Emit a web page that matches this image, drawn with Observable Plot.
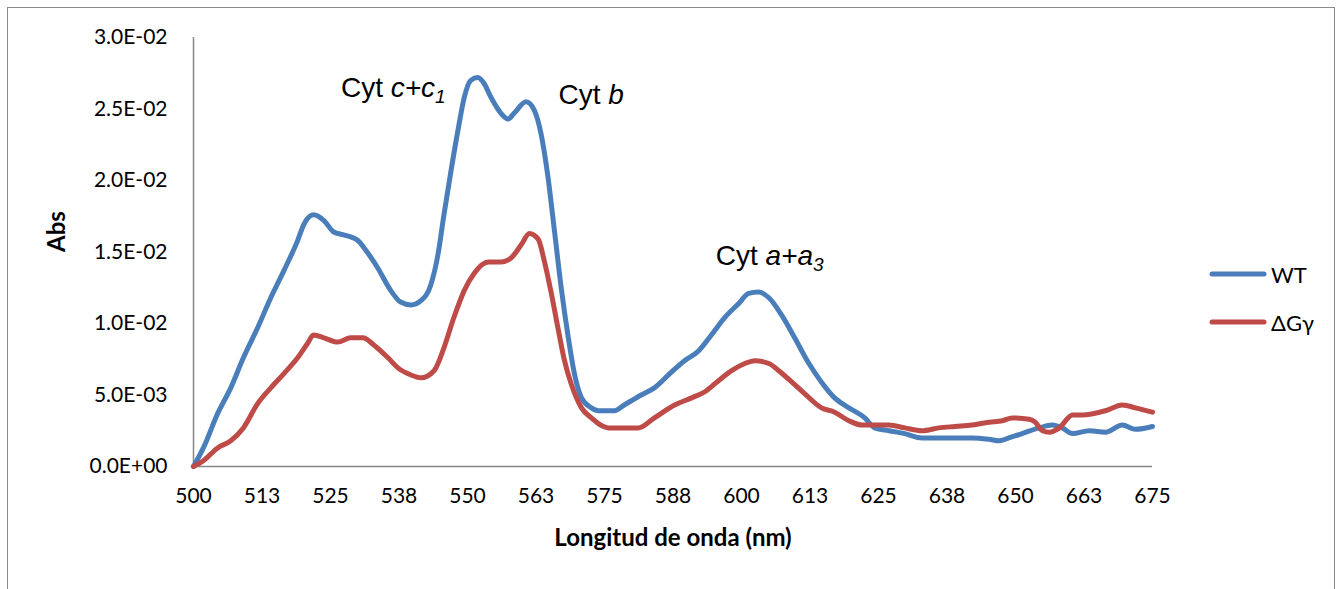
<!DOCTYPE html>
<html>
<head>
<meta charset="utf-8">
<script src="https://cdn.jsdelivr.net/npm/d3@7"></script>
<script src="https://cdn.jsdelivr.net/npm/@observablehq/plot@0.6"></script>
<style>
  html, body { margin: 0; padding: 0; background: #fff; }
  #wrap { position: relative; width: 1341px; height: 589px; overflow: hidden; }
  #frame { position: absolute; left: 7px; top: 7px; width: 1328px; height: 620px; border: 1.5px solid #8a8a8a; box-sizing: border-box; }
  #chart { position: absolute; left: 0; top: 0; }
  .legend { position: absolute; left: 1209px; font-family: Lato, "DejaVu Sans", sans-serif; font-size: 22px; color: #000; display: flex; align-items: center; }
  .legend svg { margin-right: 4px; }
</style>
</head>
<body>
<div id="wrap">
  <div id="frame"></div>
  <div id="chart"></div>
</div>
<script>
// Absorbance difference spectra, wild type vs ΔGγ mutant
const waveWT = [500.0, 501.8, 504.4, 506.8, 509.1, 511.7, 514.1, 516.5, 519.0, 520.1, 521.9, 523.8, 525.6, 527.4, 530.0, 531.1, 533.6, 536.0, 537.8, 539.7, 541.5, 543.3, 544.6, 545.7, 547.0, 548.3, 549.4, 550.6, 551.9, 553.0, 554.3, 556.1, 557.4, 558.5, 560.7, 562.2, 563.4, 564.7, 565.8, 567.1, 568.4, 569.5, 570.8, 572.6, 573.9, 576.8, 578.6, 581.7, 584.1, 587.2, 589.6, 592.2, 594.5, 596.9, 599.5, 601.3, 603.1, 605.0, 607.3, 609.7, 612.3, 614.6, 617.0, 619.6, 622.5, 624.3, 626.9, 629.8, 632.9, 636.0, 639.0, 642.1, 645.2, 647.0, 648.8, 651.2, 654.3, 656.7, 658.5, 660.4, 663.5, 666.4, 669.5, 671.9, 675.0];
const absWT = [0.0000, 0.0013, 0.0037, 0.0055, 0.0076, 0.0097, 0.0118, 0.0137, 0.0158, 0.0169, 0.0176, 0.0172, 0.0164, 0.0162, 0.0158, 0.0153, 0.0139, 0.0123, 0.0115, 0.0113, 0.0116, 0.0127, 0.0148, 0.0176, 0.0207, 0.0236, 0.0258, 0.0270, 0.0272, 0.0268, 0.0258, 0.0247, 0.0243, 0.0247, 0.0255, 0.0249, 0.0233, 0.0202, 0.0167, 0.0125, 0.0090, 0.0065, 0.0048, 0.0041, 0.0039, 0.0039, 0.0043, 0.0050, 0.0055, 0.0066, 0.0074, 0.0081, 0.0092, 0.0104, 0.0114, 0.0121, 0.0122, 0.0118, 0.0106, 0.0090, 0.0072, 0.0059, 0.0048, 0.0041, 0.0034, 0.0027, 0.0025, 0.0023, 0.0020, 0.0020, 0.0020, 0.0020, 0.0019, 0.0018, 0.0020, 0.0023, 0.0027, 0.0029, 0.0027, 0.0023, 0.0025, 0.0024, 0.0029, 0.0026, 0.0028];

const waveDG = [500.0, 501.8, 504.4, 506.8, 509.1, 511.7, 514.1, 516.5, 519.0, 520.8, 521.9, 523.8, 526.3, 528.7, 530.9, 532.9, 535.5, 537.3, 539.7, 541.5, 543.9, 545.7, 547.5, 549.4, 551.2, 553.8, 556.1, 558.0, 559.8, 561.3, 562.9, 564.0, 565.3, 566.6, 567.7, 568.9, 570.8, 572.6, 575.7, 578.6, 581.2, 584.1, 587.8, 590.9, 593.6, 595.8, 598.2, 600.6, 602.4, 605.0, 606.8, 609.2, 611.5, 614.6, 617.0, 619.6, 622.0, 624.3, 626.9, 629.8, 632.9, 636.0, 639.0, 642.1, 645.2, 647.6, 649.4, 652.5, 653.6, 654.9, 656.2, 658.0, 660.4, 662.2, 666.4, 669.5, 671.9, 675.0];
const absDG = [0.0000, 0.0004, 0.0013, 0.0018, 0.0027, 0.0044, 0.0055, 0.0065, 0.0076, 0.0086, 0.0092, 0.0090, 0.0087, 0.0090, 0.0090, 0.0085, 0.0076, 0.0069, 0.0064, 0.0062, 0.0067, 0.0083, 0.0104, 0.0123, 0.0135, 0.0143, 0.0143, 0.0146, 0.0155, 0.0163, 0.0159, 0.0144, 0.0121, 0.0095, 0.0074, 0.0058, 0.0041, 0.0034, 0.0027, 0.0027, 0.0027, 0.0034, 0.0043, 0.0048, 0.0053, 0.0060, 0.0067, 0.0072, 0.0074, 0.0072, 0.0067, 0.0059, 0.0051, 0.0041, 0.0038, 0.0032, 0.0029, 0.0029, 0.0029, 0.0027, 0.0025, 0.0027, 0.0028, 0.0029, 0.0031, 0.0032, 0.0034, 0.0033, 0.0031, 0.0025, 0.0024, 0.0027, 0.0036, 0.0036, 0.0039, 0.0043, 0.0041, 0.0038];

const seriesNames = ["WT", "ΔGγ"];
const seriesColors = ["#4a7ebb", "#be4b48"];

const xTicks = [500, 512.5, 525, 537.5, 550, 562.5, 575, 587.5, 600, 612.5, 625, 637.5, 650, 662.5, 675];
const xTickLabels = ["500", "513", "525", "538", "550", "563", "575", "588", "600", "613", "625", "638", "650", "663", "675"];
const yTicks = [0, 0.005, 0.01, 0.015, 0.02, 0.025, 0.03];
const yTickLabels = ["0.0E+00", "5.0E-03", "1.0E-02", "1.5E-02", "2.0E-02", "2.5E-02", "3.0E-02"];

// Band labels, anchored at wavelength / absorbance; runs are plain, italic or italic subscript
const bandWave = [526.9, 566.6, 595.3];
const bandAbs = [0.02587, 0.02538, 0.01406];
const bandParts = [
  [["Cyt ", ""], ["c+c", "i"], ["1", "sub"]],
  [["Cyt ", ""], ["b", "i"]],
  [["Cyt ", ""], ["a+a", "i"], ["3", "sub"]]
];

const wt = waveWT.map((w, i) => ({wave: w, abs: absWT[i]}));
const dg = waveDG.map((w, i) => ({wave: w, abs: absDG[i]}));
const bandText = bandParts.map(parts => parts.map(p => p[0]).join(""));
const bands = bandWave.map((w, i) => ({wave: w, abs: bandAbs[i], text: bandText[i]}));

const xFmt = new Map(xTicks.map((t, i) => [t, xTickLabels[i]]));
const yFmt = new Map(yTicks.map((t, i) => [t, yTickLabels[i]]));

const font = "Lato, 'DejaVu Sans', sans-serif";
const axisColor = "#868686";

const svg = Plot.plot({
  width: 1341,
  height: 589,
  marginLeft: 193,
  marginRight: 189,
  marginTop: 37,
  marginBottom: 123,
  style: {fontFamily: font, fontSize: "21px", color: "#000", background: "transparent"},
  x: {domain: [500, 675]},
  y: {domain: [0, 0.03]},
  marks: [
    Plot.axisX({ticks: xTicks, tickSize: 0, tickPadding: 22, tickFormat: d => xFmt.get(d), label: null, fontSize: 21}),
    Plot.axisY({ticks: yTicks, tickSize: 0, tickPadding: 26, tickFormat: d => yFmt.get(d), label: null, fontSize: 21}),
    Plot.ruleY([0], {x1: 500, x2: 675, stroke: axisColor, strokeWidth: 1.5}),
    Plot.ruleX([500], {y1: 0, y2: 0.03, stroke: axisColor, strokeWidth: 1.5}),
    Plot.line(wt, {x: "wave", y: "abs", stroke: seriesColors[0], strokeWidth: 5, curve: "monotone-x", strokeLinejoin: "round", strokeLinecap: "round"}),
    Plot.line(dg, {x: "wave", y: "abs", stroke: seriesColors[1], strokeWidth: 5, curve: "monotone-x", strokeLinejoin: "round", strokeLinecap: "round"}),
    Plot.text(bands, {x: "wave", y: "abs", text: "text", textAnchor: "start", lineAnchor: "bottom", fontSize: 28, fontFamily: "'Liberation Sans', Arial, sans-serif", fill: "#000"}),
    Plot.text(["Abs"], {frameAnchor: "left", rotate: -90, dx: -136, fontWeight: "bold", fontSize: 24, fill: "#000"}),
    Plot.text(["Longitud de onda (nm)"], {frameAnchor: "bottom", dy: 79, fontWeight: "bold", fontSize: 24, fill: "#000"})
  ]
});

// Rebuild the band labels with italic and subscript runs
d3.select(svg).selectAll("text").each(function() {
  const i = bandText.indexOf(this.textContent);
  if (i < 0) return;
  const t = d3.select(this);
  t.text(null);
  for (const [str, style] of bandParts[i]) {
    const span = t.append("tspan").text(str);
    if (style === "i" || style === "sub") span.attr("font-style", "italic");
    if (style === "sub") span.attr("font-size", 19).attr("dy", 6);
  }
});

document.getElementById("chart").appendChild(svg);

// Legend on the right
const wrap = document.getElementById("wrap");
const legendY = [274, 322];
seriesNames.forEach((name, i) => {
  const item = document.createElement("div");
  item.className = "legend";
  item.style.top = (legendY[i] - 14) + "px";
  item.style.height = "28px";
  item.innerHTML = `<svg width="58" height="10"><line x1="3" y1="5" x2="55" y2="5" stroke="${seriesColors[i]}" stroke-width="5" stroke-linecap="round"/></svg><span>${name}</span>`;
  wrap.appendChild(item);
});
</script>
</body>
</html>
